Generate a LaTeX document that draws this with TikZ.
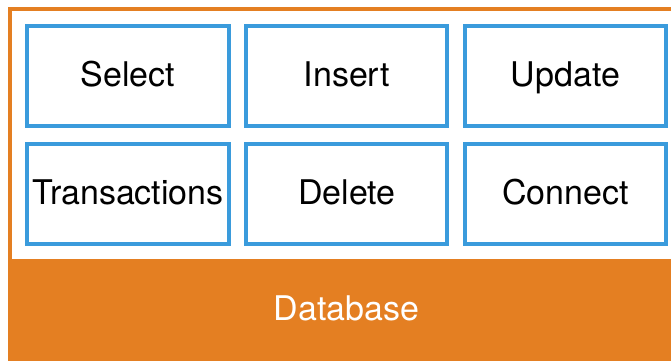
\documentclass[tikz,border=0pt]{standalone}
\usepackage{fontspec}
\setmainfont{TeX Gyre Heros}
\definecolor{dborange}{HTML}{E47F22}
\definecolor{opblue}{HTML}{3A9BDC}
\begin{document}
\begin{tikzpicture}[x=1pt,y=-1pt,
  opbox/.style={draw=opblue, line width=4pt, fill=white,
    minimum width=201.4pt, minimum height=100pt, inner sep=0pt,
    text height=25pt, text depth=4pt,
    font=\fontsize{34}{40}\selectfont, text=black},
  dblabel/.style={font=\fontsize{34}{40}\selectfont, text=white, inner sep=0pt, anchor=base}]
\useasboundingbox (0,0) rectangle (671,360);
\clip (0,0) rectangle (671,360);
% database frame and base
\draw[dborange, line width=4pt] (10.3,9.2) rectangle (685,420);
\fill[dborange] (8.3,259.3) rectangle (690,420);
% operation boxes
\node[opbox] (select) at (128,76) {Select};
\node[opbox] (insert) at (346.7,76) {Insert};
\node[opbox] (update) at (565.3,76) {Update};
\node[opbox] (trans) at (128,194) {Transactions};
\node[opbox] (delete) at (346.7,194) {Delete};
\node[opbox] (connect) at (565.3,194) {Connect};
\node[dblabel] (db) at (346.7,320.5) {Database};
\end{tikzpicture}
\end{document}
